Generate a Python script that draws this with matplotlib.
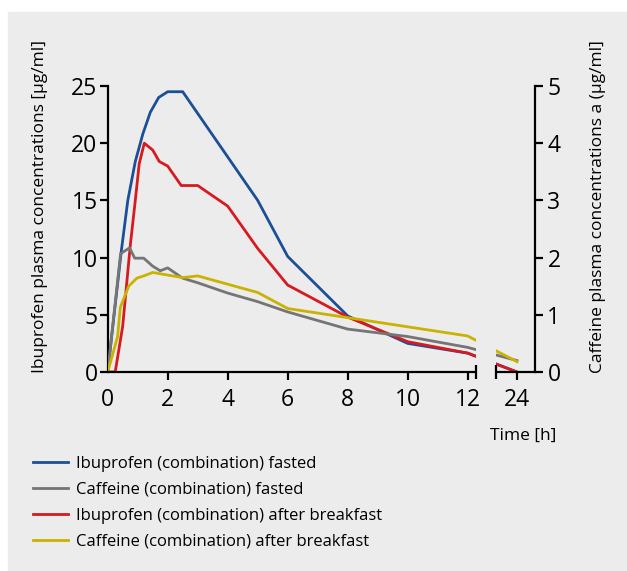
import numpy as np
import matplotlib.pyplot as plt
from matplotlib.patches import Rectangle

# Ibuprofen [µg/ml], left axis
t_ibu_fasted = [0, 0.17, 0.45, 0.67, 0.92, 1.17, 1.42, 1.7, 2.0, 2.5, 5, 6, 8, 10, 12, 24]
ibu_fasted = [0, 4.0, 10.5, 15.0, 18.4, 20.8, 22.7, 24.0, 24.5, 24.5, 15.0, 10.1, 4.9, 2.5, 1.65, 0]

t_ibu_fed = [0, 0.25, 0.5, 0.75, 0.92, 1.05, 1.22, 1.5, 1.72, 2.0, 2.45, 3, 4, 5, 6, 8, 10, 12, 24]
ibu_fed = [0, 0, 4.0, 11.0, 15.0, 18.2, 20.0, 19.4, 18.4, 18.0, 16.3, 16.3, 14.5, 10.8, 7.6, 4.8, 2.65, 1.65, 0]

# Caffeine [µg/ml], right axis
t_caf_fasted = [0, 0.43, 0.73, 0.9, 1.2, 1.5, 1.75, 2.0, 2.5, 3, 4, 5, 6, 8, 10, 12, 24]
caf_fasted = [0, 2.07, 2.17, 1.99, 1.99, 1.85, 1.77, 1.82, 1.64, 1.56, 1.38, 1.23, 1.05, 0.75, 0.62, 0.43, 0.2]

t_caf_fed = [0, 0.33, 0.42, 0.7, 0.97, 1.2, 1.5, 2.5, 3, 5, 6, 8, 10, 12, 24]
caf_fed = [0, 0.62, 1.13, 1.5, 1.64, 1.68, 1.74, 1.65, 1.68, 1.39, 1.11, 0.95, 0.79, 0.63, 0.18]

x_ticks = [0, 2, 4, 6, 8, 10, 12, 24]
labels = ["Ibuprofen (combination) fasted",
          "Caffeine (combination) fasted",
          "Ibuprofen (combination) after breakfast",
          "Caffeine (combination) after breakfast"]
colors = ["#1b4f98", "#757575", "#d71a20", "#c9b300"]
bg = "#ececec"

plt.rcParams['font.family'] = ['Open Sans', 'DejaVu Sans']

# broken time axis: after 12 h the scale is squeezed
k = 49.3 / 30 / 12


def fwd(t):
    t = np.asarray(t, float)
    return np.where(t <= 12, t, 12 + (t - 12) * k)


def inv(x):
    x = np.asarray(x, float)
    return np.where(x <= 12, x, 12 + (x - 12) / k)


W, H = 627, 571
fig = plt.figure(figsize=(W / 100, H / 100), dpi=100)
fig.patches.append(Rectangle((8 / W, 0), 1 - 8 / W, 1 - 12 / H, transform=fig.transFigure,
                             color=bg, zorder=-10))

ax = fig.add_axes([107.7 / W, (H - 372) / H, (534.5 - 107.7) / W, (372 - 86) / H])
ax.set_facecolor('none')
ax.set_xscale('function', functions=(fwd, inv))
ax2 = ax.twinx()

lw = 2.0
l1, = ax.plot(t_ibu_fasted, ibu_fasted, color=colors[0], lw=lw, label=labels[0])
l3, = ax.plot(t_ibu_fed, ibu_fed, color=colors[2], lw=lw, label=labels[2])
l2, = ax2.plot(t_caf_fasted, caf_fasted, color=colors[1], lw=lw, label=labels[1])
l4, = ax2.plot(t_caf_fed, caf_fed, color=colors[3], lw=lw, label=labels[3])

x_right = float(inv((534.5 - 107.7) / 30))
ax.set_xlim(0, x_right)
ax.set_ylim(0, 25)
ax2.set_ylim(0, 5)
ax.set_xticks(x_ticks)
ax.set_xticklabels([str(v) for v in x_ticks])
ax.set_yticks([0, 5, 10, 15, 20, 25])
ax2.set_yticks([0, 1, 2, 3, 4, 5])

for a in (ax, ax2):
    for s in ('top', 'bottom'):
        a.spines[s].set_visible(False)
ax.spines['right'].set_visible(False)
ax2.spines['left'].set_visible(False)
ax.spines['left'].set_linewidth(1.6)
ax2.spines['right'].set_linewidth(1.6)

ax.tick_params(axis='x', length=5.8, width=1.6, pad=6, labelsize=16.5)
ax.tick_params(axis='y', length=5.8, width=1.6, pad=1.5, labelsize=16.5)
ax2.tick_params(axis='y', length=5.8, width=1.6, pad=3.5, labelsize=16.5)
ax.xaxis.get_major_ticks()[0].tick1line.set_visible(False)

# gap in the time axis
g0, g1 = float(inv(12.28)), float(inv(12.93))
ax2.axvspan(g0, g1, color=bg, zorder=3, lw=0)
xt = ax2.get_xaxis_transform()
ax2.plot([0, g0], [0, 0], color='k', lw=1.6, transform=xt, clip_on=False, zorder=5,
         solid_capstyle='butt')
ax2.plot([g1, x_right], [0, 0], color='k', lw=1.6, transform=xt, clip_on=False, zorder=5,
         solid_capstyle='butt')
ax2.plot([g0, g1], [0, 0], ls='none', marker='|', ms=10, mew=1.6, color='k',
         transform=xt, clip_on=False, zorder=5)

fig.text(40 / W, 1 - 40 / H, "Ibuprofen plasma concentrations [µg/ml]", rotation=90,
         ha='center', va='top', fontsize=12.5)
fig.text(598 / W, 1 - 40 / H, "Caffeine plasma concentrations a (µg/ml]", rotation=90,
         ha='center', va='top', fontsize=12.5)
fig.text(490 / W, 1 - 436 / H, "Time [h]", ha='left', va='center', fontsize=12.5)

fig.legend([l1, l2, l3, l4], labels, loc='upper left', bbox_to_anchor=(33 / W, 1 - 456 / H),
           frameon=False, fontsize=12, handlelength=2.1, handletextpad=0.45,
           labelspacing=0.6, borderpad=0, borderaxespad=0)

fig.savefig('out.png', dpi=100)
